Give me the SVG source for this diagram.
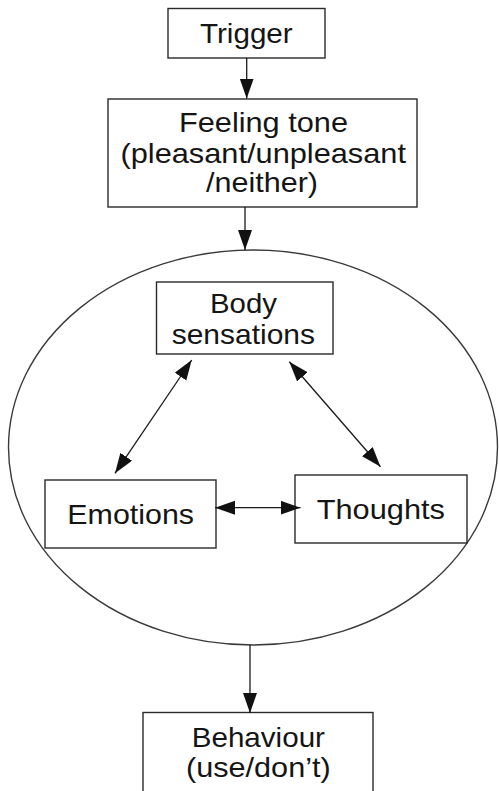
<svg xmlns="http://www.w3.org/2000/svg" width="499" height="791" viewBox="0 0 499 791">
<defs>
<style>
.box{fill:#ffffff;stroke:#2a2a2a;stroke-width:1.4}
.lbl{font-family:"Liberation Sans",Arial,sans-serif;font-size:28.5px;fill:#151515}
.conn{stroke:#1a1a1a;stroke-width:1.3;fill:none}
.ell{fill:none;stroke:#3a3a3a;stroke-width:1.4}
</style>
<marker id="ah" markerUnits="userSpaceOnUse" markerWidth="21" markerHeight="15" refX="20" refY="7" orient="auto-start-reverse" viewBox="0 0 21 15">
<path d="M0,0 L20,7 L0,14 z" fill="#111"/>
</marker>
</defs>
<rect width="499" height="791" fill="#ffffff"/>
<g id="cycle">
<ellipse class="ell" cx="253" cy="447.5" rx="244.5" ry="197.5"/>
</g>
<g id="trigger">
<rect class="box" x="168" y="8.5" width="157" height="49.5"/>
<text class="lbl" x="200" y="42.7" textLength="92.7" lengthAdjust="spacingAndGlyphs" style="font-size:27px">Trigger</text>
</g>
<g id="feeling-tone">
<rect class="box" x="108" y="99" width="309" height="108"/>
<text class="lbl" x="179" y="131.7" textLength="169" lengthAdjust="spacingAndGlyphs">Feeling tone</text>
<text class="lbl" x="120.5" y="162.5" textLength="285.5" lengthAdjust="spacingAndGlyphs">(pleasant/unpleasant</text>
<text class="lbl" x="206" y="192" textLength="112" lengthAdjust="spacingAndGlyphs">/neither)</text>
</g>
<g id="body-sensations">
<rect class="box" x="156.5" y="282" width="176.5" height="72"/>
<text class="lbl" x="210" y="313.3" textLength="67" lengthAdjust="spacingAndGlyphs">Body</text>
<text class="lbl" x="171.7" y="344" textLength="143.3" lengthAdjust="spacingAndGlyphs">sensations</text>
</g>
<g id="emotions">
<rect class="box" x="45" y="480" width="171" height="68"/>
<text class="lbl" x="67.3" y="524" textLength="126.7" lengthAdjust="spacingAndGlyphs">Emotions</text>
</g>
<g id="thoughts">
<rect class="box" x="295" y="475" width="172" height="68"/>
<text class="lbl" x="316.7" y="519.3" textLength="128.3" lengthAdjust="spacingAndGlyphs">Thoughts</text>
</g>
<g id="behaviour">
<rect class="box" x="143" y="712.5" width="230" height="90"/>
<text class="lbl" x="191.7" y="746.7" textLength="133.3" lengthAdjust="spacingAndGlyphs">Behaviour</text>
<text class="lbl" x="186" y="777.3" textLength="144.7" lengthAdjust="spacingAndGlyphs">(use/don’t)</text>
</g>
<g id="connectors">
<line class="conn" x1="246.7" y1="58" x2="246.7" y2="98.5" marker-end="url(#ah)"/>
<line class="conn" x1="245" y1="207" x2="245" y2="250" marker-end="url(#ah)"/>
<line class="conn" x1="250" y1="645" x2="250" y2="713" marker-end="url(#ah)"/>
<line class="conn" x1="191.7" y1="360" x2="115" y2="473.3" marker-start="url(#ah)" marker-end="url(#ah)"/>
<line class="conn" x1="289.3" y1="361.7" x2="380.5" y2="466.7" marker-start="url(#ah)" marker-end="url(#ah)"/>
<line class="conn" x1="215" y1="507.7" x2="300.5" y2="507.7" marker-start="url(#ah)" marker-end="url(#ah)"/>
</g>
</svg>
